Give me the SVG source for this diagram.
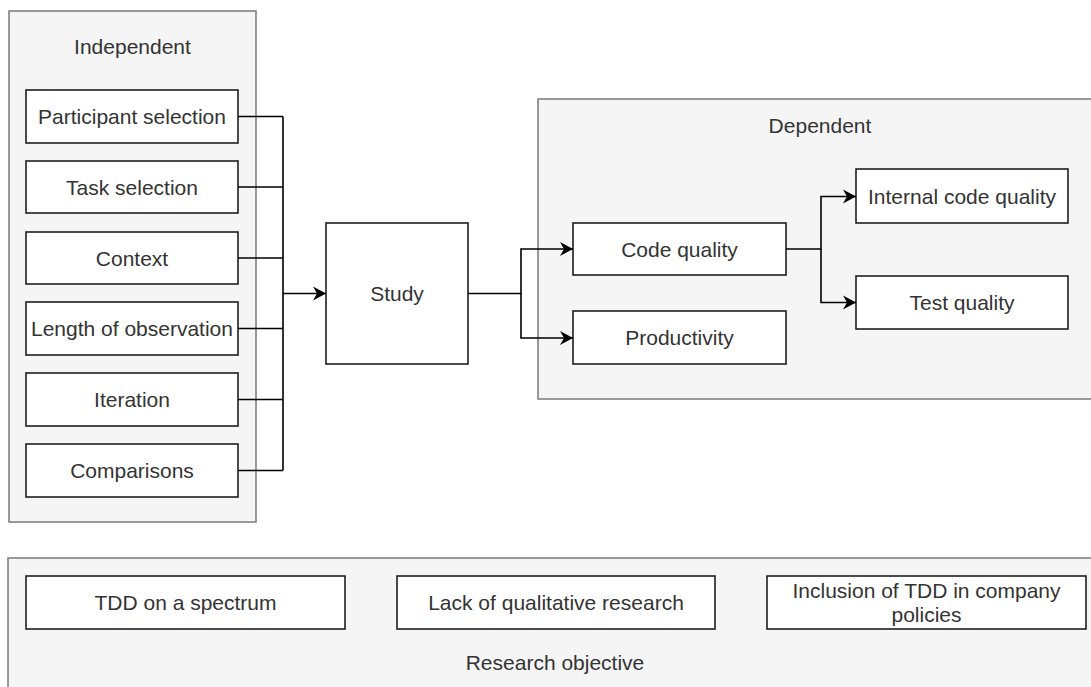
<svg xmlns="http://www.w3.org/2000/svg" width="1091" height="687" viewBox="0 0 1091 687">
<style>
.cont{fill:#f5f5f5;stroke:#7a7a7a;stroke-width:1.5}
.box{fill:#ffffff;stroke:#1e1e1e;stroke-width:1.6}
.t{font-family:"Liberation Sans",Arial,sans-serif;font-size:21px;fill:#333333;text-anchor:middle}
.c{fill:none;stroke:#000000;stroke-width:1.6}
</style>
<defs>
<marker id="arr" markerUnits="userSpaceOnUse" markerWidth="16" markerHeight="16" viewBox="-14 -8 16 16" refX="0" refY="0" orient="auto">
<path d="M0,0 L-13,-7 L-9,0 L-13,7 Z" fill="#000000"/>
</marker>
</defs>
<rect width="1091" height="687" fill="#ffffff"/>

<g id="independent">
<rect class="cont" x="9" y="11" width="247" height="511"/>
<text class="t" x="132.5" y="54">Independent</text>
</g>
<g id="participant-selection"><rect class="box" x="26" y="90" width="212" height="53"/><text class="t" x="132" y="124">Participant selection</text></g>
<g id="task-selection"><rect class="box" x="26" y="161" width="212" height="52"/><text class="t" x="132" y="194.5">Task selection</text></g>
<g id="context"><rect class="box" x="26" y="232" width="212" height="52"/><text class="t" x="132" y="265.5">Context</text></g>
<g id="length-of-observation"><rect class="box" x="26" y="302" width="212" height="53"/><text class="t" x="132" y="336">Length of observation</text></g>
<g id="iteration"><rect class="box" x="26" y="373" width="212" height="53"/><text class="t" x="132" y="407">Iteration</text></g>
<g id="comparisons"><rect class="box" x="26" y="444" width="212" height="53"/><text class="t" x="132" y="478">Comparisons</text></g>

<g id="study"><rect class="box" x="326" y="223" width="142" height="141"/><text class="t" x="397" y="301">Study</text></g>

<g id="dependent">
<rect class="cont" x="538" y="99" width="564" height="300"/>
<text class="t" x="820" y="133">Dependent</text>
</g>
<g id="code-quality"><rect class="box" x="573" y="223" width="213" height="52"/><text class="t" x="679.5" y="256.5">Code quality</text></g>
<g id="productivity"><rect class="box" x="573" y="311" width="213" height="53"/><text class="t" x="679.5" y="345">Productivity</text></g>
<g id="internal-code-quality"><rect class="box" x="856" y="169" width="212" height="54"/><text class="t" x="962" y="203.5">Internal code quality</text></g>
<g id="test-quality"><rect class="box" x="856" y="276" width="212" height="53"/><text class="t" x="962" y="310">Test quality</text></g>

<g id="research-objective">
<rect class="cont" x="8" y="558" width="1094" height="140"/>
<text class="t" x="555" y="670">Research objective</text>
</g>
<g id="tdd-on-a-spectrum"><rect class="box" x="26" y="576" width="319" height="53"/><text class="t" x="185.5" y="610">TDD on a spectrum</text></g>
<g id="lack-of-qualitative-research"><rect class="box" x="397" y="576" width="318" height="53"/><text class="t" x="556" y="610">Lack of qualitative research</text></g>
<g id="inclusion-of-tdd"><rect class="box" x="767" y="576" width="319" height="53"/><text class="t" x="926.5" y="598">Inclusion of TDD in company</text><text class="t" x="926.5" y="622">policies</text></g>

<g id="connectors">
<path class="c" d="M238,116.5 H283 M238,187 H283 M238,258 H283 M238,328.5 H283 M238,399.5 H283 M238,470.5 H283 M283,116.5 V470.5"/>
<path class="c" d="M283,293.5 H326" marker-end="url(#arr)"/>
<path class="c" d="M468,293.5 H521 V249 H573" marker-end="url(#arr)"/>
<path class="c" d="M521,293.5 V338 H573" marker-end="url(#arr)"/>
<path class="c" d="M786,249 H821 V196.5 H856" marker-end="url(#arr)"/>
<path class="c" d="M821,249 V302.5 H856" marker-end="url(#arr)"/>
</g>
</svg>
